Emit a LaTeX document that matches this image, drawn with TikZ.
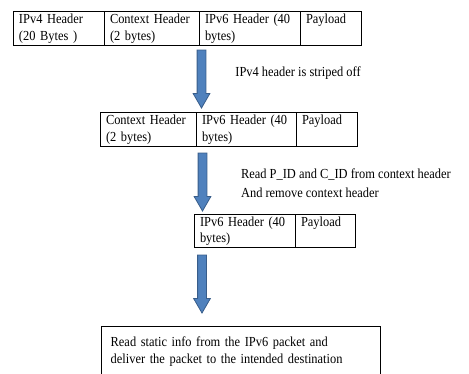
\documentclass[tikz,border=0pt]{standalone}
\usepackage{fontspec}
\setmainfont{Liberation Serif}[FakeStretch=0.9]
\usepackage{xcolor}
\usetikzlibrary{positioning,shapes.arrows}
\definecolor{arrowblue}{RGB}{79,129,189}
\definecolor{arrowedge}{RGB}{56,93,138}

\begin{document}
\begin{tikzpicture}[x=1pt, y=-1pt,
        cell/.style = {draw, rectangle, outer sep=0pt, inner xsep=6pt, inner ysep=3pt,
            align=left, text height=9.3pt, text depth=18.4pt, font=\fontsize{13.8}{16.5}\selectfont},
        fatarrow/.style = {single arrow, draw=arrowedge, fill=arrowblue, rotate=-90, anchor=west,
            minimum height=58pt, minimum width=16pt, single arrow head extend=4pt,
            single arrow tip angle=60, inner xsep=0pt, inner ysep=4pt, outer sep=0pt},
        note/.style = {anchor=west, inner sep=0pt, align=left, font=\fontsize{13.8}{19.5}\selectfont},
        line width=0.8pt
    ]
        \useasboundingbox (0,0) rectangle (469,374);
        \clip (0,0) rectangle (469,374);
        % first packet
        \node[cell, text width=79pt, anchor=north west] (v4a) at (13,11.7) {IPv4 Header\\(20 Bytes )};
        \node[cell, text width=83pt, right=0pt of v4a] (ctxa) {Context Header\\(2 bytes)};
        \node[cell, text width=89pt, right=0pt of ctxa] (v6a) {IPv6 Header (40\\bytes)};
        \node[cell, text width=49pt, right=0pt of v6a] (loada) {Payload};
        \node[fatarrow] (arra) at (201.5,50) {};
        \node[note] (strip) at (235,73) {IPv4 header is striped off};
        % second packet
        \node[cell, text width=84pt, anchor=north west] (ctxb) at (100,112.7) {Context Header\\(2 bytes)};
        \node[cell, text width=88pt, right=0pt of ctxb] (v6b) {IPv6 Header (40\\bytes)};
        \node[cell, text width=49pt, right=0pt of v6b] (loadb) {Payload};
        \node[fatarrow] (arrb) at (202.5,153) {};
        \node[note] (readid) at (240.7,183) {Read P\_ID and C\_ID from context header\\And remove context header};
        % third packet
        \node[cell, text width=89pt, anchor=north west] (v6c) at (194,214) {IPv6 Header (40\\bytes)};
        \node[cell, text width=48pt, right=0pt of v6c] (loadc) {Payload};
        \node[fatarrow] (arrc) at (202,255) {};
        % delivery
        \node[cell, text width=261pt, inner xsep=9pt, inner ysep=3pt, text height=18pt, text depth=40pt,
            anchor=north west] (deliver) at (101.7,326)
            {Read static info from the IPv6 packet and\\deliver the packet to the intended destination};
    \end{tikzpicture}
\end{document}
